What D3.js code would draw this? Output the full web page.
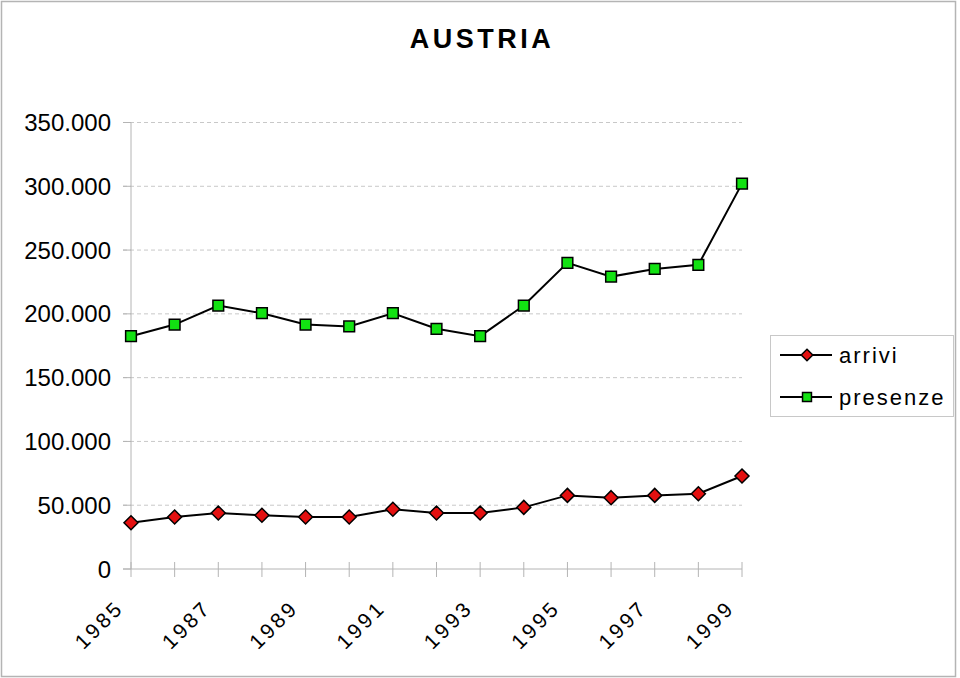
<!DOCTYPE html>
<meta charset="utf-8">
<style>
    body { margin: 0; background: #fff; }
    text { font-family: "Liberation Sans", Arial, sans-serif; fill: #000; }
    .title { font-size: 27px; font-weight: bold; letter-spacing: 3.5px; text-anchor: middle; }
    .ylab { font-size: 24px; text-anchor: end; }
    .xlab { font-size: 21px; letter-spacing: 3px; text-anchor: end; }
    .leg { font-size: 22px; letter-spacing: 2px; }
</style>
<body>
<script src="https://d3js.org/d3.v7.min.js"></script>
<script>
    // data
    var years = [1985, 1986, 1987, 1988, 1989, 1990, 1991, 1992, 1993, 1994, 1995, 1996, 1997, 1998, 1999];
    var arrivi = [36300, 40800, 43900, 42100, 40800, 40800, 46800, 43900, 43900, 48300, 57700, 55900, 57700, 59000, 72900];
    var presenze = [182500, 191600, 206500, 200500, 191600, 190100, 200500, 188300, 182500, 206500, 240000, 229200, 235200, 238400, 302100];
    var yTicks = [0, 50000, 100000, 150000, 200000, 250000, 300000, 350000];
    var xLabels = [1985, 1987, 1989, 1991, 1993, 1995, 1997, 1999];
    var seriesNames = ["arrivi", "presenze"];

    var width = 960, height = 678;

    var svg = d3.select("body").append("svg")
        .attr("width", width)
        .attr("height", height);

    // outer frame
    svg.append("rect")
        .attr("x", 1.5).attr("y", 1.5)
        .attr("width", 954).attr("height", 675)
        .attr("fill", "none")
        .attr("stroke", "#b4b4b4")
        .attr("stroke-width", 1.5);

    svg.append("text")
        .attr("class", "title")
        .attr("x", 482).attr("y", 48)
        .text("AUSTRIA");

    var x = d3.scalePoint().domain(years).range([131, 742]);
    var y = d3.scaleLinear().domain([0, 350000]).range([569, 122.5]);

    var it = d3.formatLocale({decimal: ",", thousands: ".", grouping: [3], currency: ["", "€"]});
    var fmt = it.format(",");

    // grid lines
    svg.append("g").selectAll("line")
        .data(yTicks.filter(function(d) { return d > 0; }))
        .enter().append("line")
        .attr("x1", 123).attr("x2", 742)
        .attr("y1", function(d) { return y(d); })
        .attr("y2", function(d) { return y(d); })
        .attr("stroke", "#c8c8c8")
        .attr("stroke-dasharray", "4,3");

    // y ticks (solid part left of the axis)
    svg.append("g").selectAll("line")
        .data(yTicks)
        .enter().append("line")
        .attr("x1", 123).attr("x2", 131)
        .attr("y1", function(d) { return y(d); })
        .attr("y2", function(d) { return y(d); })
        .attr("stroke", "#b4b4b4");

    // axes lines
    svg.append("line")
        .attr("x1", 131).attr("x2", 131)
        .attr("y1", y(350000)).attr("y2", y(0))
        .attr("stroke", "#b4b4b4");
    svg.append("line")
        .attr("x1", 123).attr("x2", 742)
        .attr("y1", y(0)).attr("y2", y(0))
        .attr("stroke", "#b4b4b4");

    svg.append("g").selectAll("line")
        .data(years)
        .enter().append("line")
        .attr("x1", function(d) { return x(d); })
        .attr("x2", function(d) { return x(d); })
        .attr("y1", y(0) - 7).attr("y2", y(0) + 8)
        .attr("stroke", "#b4b4b4");

    svg.append("g").selectAll("text")
        .data(yTicks)
        .enter().append("text")
        .attr("class", "ylab")
        .attr("x", 111)
        .attr("y", function(d) { return y(d) + 8.5; })
        .text(function(d) { return fmt(d); });

    svg.append("g").selectAll("text")
        .data(xLabels)
        .enter().append("text")
        .attr("class", "xlab")
        .attr("transform", function(d) {
            return "translate(" + (x(d) - 6) + "," + (y(0) + 40) + ") rotate(-45)";
        })
        .text(function(d) { return d; });

    var line = d3.line()
        .x(function(d, i) { return x(years[i]); })
        .y(function(d) { return y(d); });

    function drawSeries(vals, kind) {
        svg.append("path")
            .datum(vals)
            .attr("d", line)
            .attr("fill", "none")
            .attr("stroke", "#000")
            .attr("stroke-width", 2);

        var sym = kind == "arrivi"
            ? d3.symbol().type(d3.symbolDiamond2).size(125)
            : d3.symbol().type(d3.symbolSquare).size(115);

        svg.append("g").selectAll("path")
            .data(vals)
            .enter().append("path")
            .attr("d", sym)
            .attr("transform", function(d, i) {
                return "translate(" + x(years[i]) + "," + y(d) + ")";
            })
            .attr("fill", kind == "arrivi" ? "#e41010" : "#12e212")
            .attr("stroke", "#000")
            .attr("stroke-width", 1.5);
    }

    drawSeries(arrivi, "arrivi");
    drawSeries(presenze, "presenze");

    // legend
    var leg = svg.append("g");
    leg.append("rect")
        .attr("x", 770.5).attr("y", 335.5)
        .attr("width", 183).attr("height", 81)
        .attr("fill", "#fff")
        .attr("stroke", "#c8c8c8");

    var items = leg.selectAll("g")
        .data(seriesNames)
        .enter().append("g")
        .attr("transform", function(d, i) { return "translate(0," + (355 + i * 42) + ")"; });

    items.append("line")
        .attr("x1", 780).attr("x2", 832)
        .attr("y1", 0).attr("y2", 0)
        .attr("stroke", "#000")
        .attr("stroke-width", 2);

    items.append("path")
        .attr("d", function(d) {
            return d == "arrivi"
                ? d3.symbol().type(d3.symbolDiamond2).size(85)()
                : d3.symbol().type(d3.symbolSquare).size(80)();
        })
        .attr("transform", "translate(807,0)")
        .attr("fill", function(d) { return d == "arrivi" ? "#e41010" : "#12e212"; })
        .attr("stroke", "#000")
        .attr("stroke-width", 1.5);

    items.append("text")
        .attr("class", "leg")
        .attr("x", 839)
        .attr("y", 8)
        .text(function(d) { return d; });
</script>
</body>
